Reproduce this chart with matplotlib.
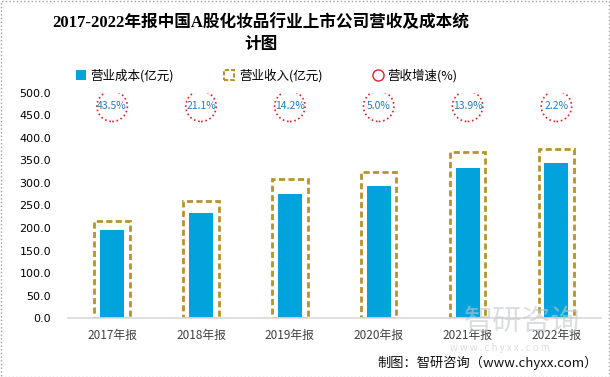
import matplotlib.pyplot as plt
from matplotlib.lines import Line2D
from matplotlib.patches import Patch, Rectangle

plt.rcParams['font.family'] = ['Noto Sans CJK SC', 'DejaVu Sans']

# 数据
years = ['2017年报', '2018年报', '2019年报', '2020年报', '2021年报', '2022年报']
cost = [196, 233, 275.5, 293, 333, 344]          # 营业成本(亿元)
revenue = [216, 261, 309, 324, 369, 375]          # 营业收入(亿元)
growth = [43.5, 21.1, 14.2, 5.0, 13.9, 2.2]       # 营收增速(%)

blue = '#00a3dc'
gold = '#b8922e'
red = '#d9232d'

fig = plt.figure(figsize=(6.1, 3.77), dpi=100)
ax = fig.add_axes([0.111, 0.156, 0.874, 0.598])

x = range(len(years))
ax.bar(x, cost, width=0.27, color=blue, zorder=2)
ax.bar(x, revenue, width=0.4, fill=False, edgecolor=gold, linestyle=(0, (2.2, 1.2)),
       linewidth=2, zorder=2)

# 增速圆圈放在图上方固定高度
label_y = 470
ax.scatter(x, [label_y] * len(years), s=480, facecolors='none', edgecolors=red,
           linewidths=1.2, linestyles=':', zorder=3)
for i, g in enumerate(growth):
    ax.text(i, label_y, f'{g:.1f}%', ha='center', va='center', fontsize=7.5,
            color='#2a7ab8', zorder=4)

ax.set_xlim(-0.5, len(years) - 0.5)
ax.set_ylim(0, 500)
ax.set_yticks(range(0, 501, 50))
ax.set_yticklabels([f'{v:.1f}' for v in range(0, 501, 50)], fontsize=8,
                   family=['DejaVu Sans'])
ax.set_xticks(list(x))
ax.set_xticklabels(years, fontsize=8.5, color='#404040')
ax.tick_params(length=0, pad=8)
ax.tick_params(axis='y', pad=12)
for s in ['top', 'right', 'left']:
    ax.spines[s].set_visible(False)
ax.spines['bottom'].set_color('#d9d9d9')
ax.spines['bottom'].set_linewidth(1.2)
ax.spines['bottom'].set_zorder(3)

# 标题
fig.text(0.428, 0.94, '2017-2022年报中国A股化妆品行业上市公司营收及成本统',
         ha='center', va='center', fontsize=12, fontweight='bold',
         family=['Liberation Serif', 'Noto Sans CJK SC'])
fig.text(0.428, 0.88, '计图', ha='center', va='center', fontsize=12,
         fontweight='bold', family=['Liberation Serif', 'Noto Sans CJK SC'])

# 图例
handles = [
    Patch(facecolor=blue, edgecolor='none'),
    Patch(facecolor='none', edgecolor=gold, linestyle=(0, (2, 1)), linewidth=1.5),
    Line2D([], [], marker='o', linestyle='none', markersize=8, markerfacecolor='none',
           markeredgecolor=red, markeredgewidth=1),
]
fig.legend(handles, ['营业成本(亿元)', '营业收入(亿元)', '营收增速(%)'],
           loc='center', bbox_to_anchor=(0.437, 0.80), ncol=3, frameon=False,
           fontsize=9, handlelength=0.8, handleheight=0.8, handletextpad=0.4,
           columnspacing=4.0)

# 水印和来源
fig.text(0.855, 0.145, '智研咨询', ha='center', va='center', fontsize=21,
         color='#c4c8cc', alpha=0.6, zorder=0)
fig.text(0.82, 0.078, 'w w w . c h y x x . c o m', ha='center', va='center',
         fontsize=7, color='#c4c8cc', alpha=0.6, zorder=0)
fig.text(0.98, 0.038, '制图：智研咨询（www.chyxx.com）', ha='right', va='center',
         fontsize=9.5, color='#111111',
         family=['Noto Sans CJK SC', 'DejaVu Sans'])

fig.patches.append(Rectangle((0.001, 0.001), 0.997, 0.996, transform=fig.transFigure,
                             fill=False, edgecolor='#a0a0a0', linewidth=1,
                             linestyle=':'))

fig.savefig('out.png', dpi=100)
